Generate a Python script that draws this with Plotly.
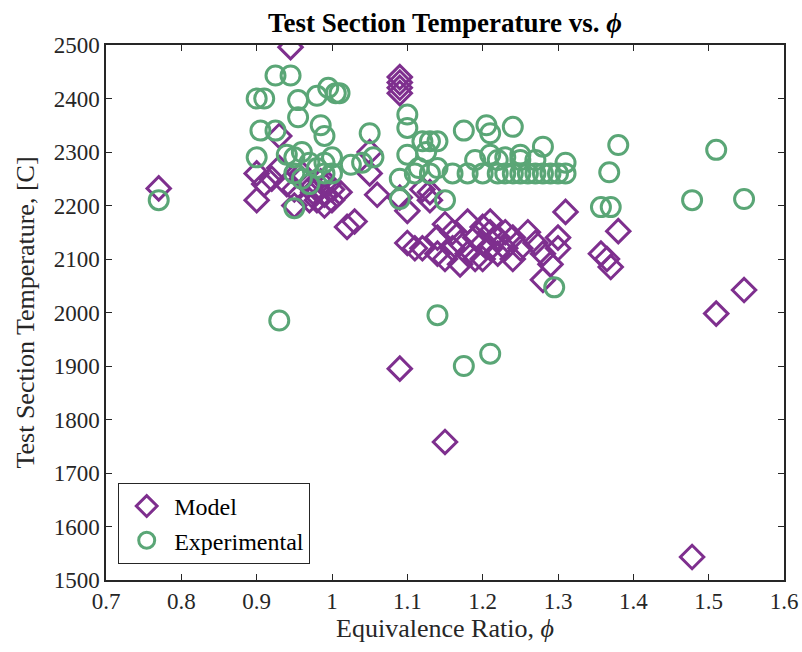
import plotly.graph_objects as go

# Model (purple diamonds)
model_phi = [0.77, 0.945, 1.09, 1.09, 1.09, 1.09, 1.09, 1.15, 1.478, 1.51, 1.547,
             1.38, 1.37, 1.365, 1.357, 1.31, 1.28,
             1.10, 1.11, 1.12, 1.13, 1.13, 1.14, 1.14, 1.15, 1.15, 1.16, 1.16, 1.17, 1.17,
             1.18, 1.18, 1.19, 1.19, 1.20, 1.20, 1.20, 1.21, 1.21, 1.21, 1.22, 1.22, 1.23,
             1.23, 1.24, 1.24, 1.25, 1.26, 1.27, 1.28, 1.29, 1.30, 1.30, 1.10, 1.09,
             0.90, 0.90, 0.91, 0.92, 0.93, 0.93, 0.94, 0.95, 0.95, 0.96, 0.97, 0.98, 0.98,
             0.99, 0.99, 1.00, 1.00, 1.01, 1.02, 1.03, 1.05, 1.05, 1.06, 0.96, 0.97,
             0.985, 0.995, 0.975, 1.12]
model_temp = [2232, 2496, 2440, 2430, 2420, 2410, 1895, 1758, 1543, 1998, 2042,
              2152, 2085, 2100, 2110, 2188, 2061,
              2130, 2120, 2230, 2225, 2210, 2140, 2110, 2100, 2165, 2150, 2120, 2130, 2090,
              2170, 2110, 2140, 2100, 2160, 2130, 2100, 2170, 2150, 2120, 2140, 2110, 2150,
              2120, 2140, 2100, 2120, 2150, 2130, 2110, 2090, 2120, 2140, 2190, 2215,
              2210, 2260, 2240, 2250, 2330, 2270, 2240, 2200, 2230, 2260, 2240, 2230, 2210,
              2200, 2220, 2230, 2210, 2225, 2160, 2170, 2300, 2260, 2220, 2250, 2210,
              2245, 2240, 2225, 2120]

# Experimental (green circles)
exp_phi = [0.77, 0.90, 0.91, 0.925, 0.945, 0.955, 0.955, 0.90, 0.905, 0.925,
           0.98, 0.995, 1.005, 0.985, 0.99, 1.01, 0.93, 0.95,
           0.94, 0.95, 0.96, 0.97, 0.98, 0.95, 0.96, 0.97, 0.99, 1.00, 0.99, 1.00,
           1.025, 1.05, 1.055, 1.04, 1.09, 1.09, 1.10, 1.10, 1.10,
           1.12, 1.13, 1.14, 1.125, 1.14, 1.115, 1.15, 1.14, 1.175, 1.21, 1.175,
           1.205, 1.21, 1.21, 1.24,
           1.11, 1.13, 1.16, 1.18, 1.20, 1.22, 1.23, 1.24, 1.25, 1.26, 1.27, 1.28, 1.29, 1.30, 1.31,
           1.19, 1.22, 1.25, 1.27, 1.23, 1.25, 1.28, 1.31, 1.295,
           1.357, 1.37, 1.368, 1.38, 1.478, 1.51, 1.547]
exp_temp = [2210, 2400, 2400, 2443, 2443, 2397, 2365, 2290, 2340, 2340,
            2405, 2420, 2410, 2350, 2330, 2410, 1985, 2195,
            2295, 2290, 2300, 2280, 2270, 2260, 2250, 2240, 2280, 2290, 2260, 2260,
            2276, 2335, 2290, 2280, 2250, 2212, 2370, 2345, 2295,
            2320, 2320, 2320, 2300, 2270, 2270, 2210, 1995, 1900, 1923, 2340,
            2350, 2335, 2295, 2347,
            2260, 2260, 2260, 2260, 2260, 2260, 2260, 2260, 2260, 2260, 2260, 2260, 2260, 2260, 2260,
            2285, 2285, 2285, 2285, 2290, 2295, 2310, 2280, 2047,
            2197, 2197, 2262, 2313, 2210, 2304, 2212]

x_ticks = [0.7, 0.8, 0.9, 1.0, 1.1, 1.2, 1.3, 1.4, 1.5, 1.6]
x_labels = ["0.7", "0.8", "0.9", "1", "1.1", "1.2", "1.3", "1.4", "1.5", "1.6"]
y_ticks = list(range(1500, 2501, 100))

purple = "#7E2F8E"
green = "#5AA676"
font_fam = "Liberation Serif, Times New Roman, serif"
axis_col = "#262626"

fig = go.Figure()
fig.add_trace(go.Scatter(x=model_phi, y=model_temp, mode="markers", name="Model",
                         marker=dict(symbol="diamond-open", size=18, color=purple,
                                     line=dict(width=3, color=purple))))
fig.add_trace(go.Scatter(x=exp_phi, y=exp_temp, mode="markers", name="Experimental",
                         marker=dict(symbol="circle-open", size=19, color=green,
                                     line=dict(width=3, color=green))))

fig.update_layout(
    width=802, height=652,
    margin=dict(l=106, r=18, t=45, b=72, autoexpand=False),
    paper_bgcolor="white", plot_bgcolor="white",
    font=dict(family=font_fam, size=24, color=axis_col),
    title=dict(text="<b>Test Section Temperature vs. <i>ϕ</i></b>", x=0.5,
               xref="paper", y=0.966, yref="container", yanchor="middle",
               font=dict(family=font_fam, size=27, color="black")),
    showlegend=True,
    legend=dict(x=0.018, y=0.03, xanchor="left", yanchor="bottom",
                bgcolor="white", bordercolor=axis_col, borderwidth=1,
                font=dict(family=font_fam, size=24, color="black"),
                tracegroupgap=0, itemsizing="trace", itemwidth=45),
)
fig.update_xaxes(range=[0.7, 1.6], tickvals=x_ticks, ticktext=x_labels,
                 ticks="inside", ticklen=6, tickcolor=axis_col, showgrid=False,
                 zeroline=False, showline=True, linecolor=axis_col, linewidth=1.5,
                 mirror="ticks",
                 tickfont=dict(family=font_fam, size=23, color=axis_col),
                 title=dict(text="Equivalence Ratio, <i>ϕ</i>", standoff=4,
                            font=dict(family=font_fam, size=26, color=axis_col)))
fig.update_yaxes(range=[1500, 2500], tickvals=y_ticks,
                 ticks="inside", ticklen=6, tickcolor=axis_col, showgrid=False,
                 zeroline=False, showline=True, linecolor=axis_col, linewidth=1.5,
                 mirror="ticks",
                 tickfont=dict(family=font_fam, size=23, color=axis_col),
                 title=dict(text="Test Section Temperature, [C]", standoff=12,
                            font=dict(family=font_fam, size=26, color=axis_col)))

fig.write_html("out.html")
